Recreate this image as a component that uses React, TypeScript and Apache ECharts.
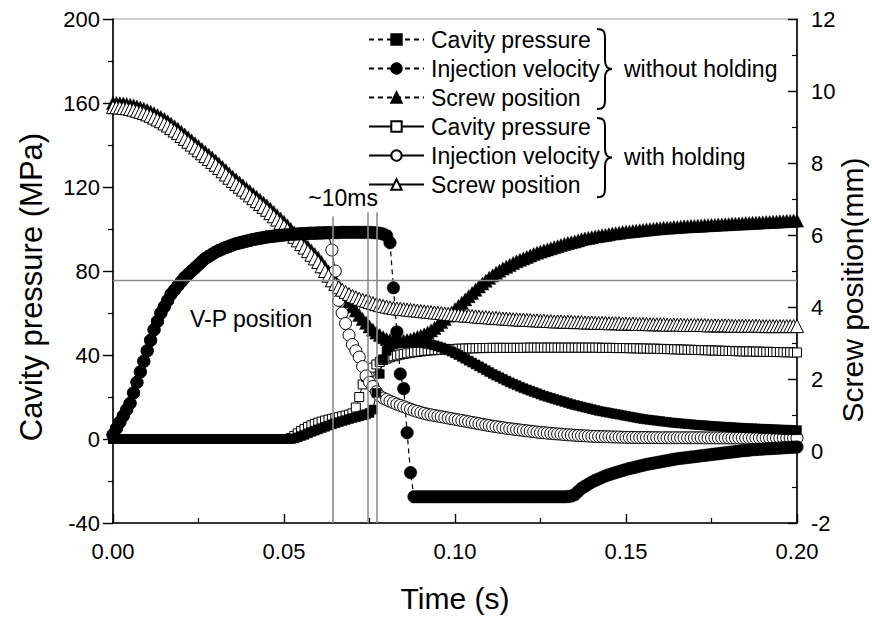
import React, { useEffect, useRef } from "react";
import * as echarts from "echarts";

// Logger sampling interval (s); every series below holds one value per step from 0 to 0.200 s.
const SAMPLE_STEP = 0.001;

const X_TICKS = { min: 0, max: 0.2, interval: 0.05 };
const LEFT_TICKS = { min: -40, max: 200, interval: 40 };
const RIGHT_TICKS = { min: -2, max: 12, interval: 2 };

// Without holding pressure
const cavityWithout = [
  0, 0, 0, 0, 0, 0, 0, 0, 0, 0,
  0, 0, 0, 0, 0, 0, 0, 0, 0, 0,
  0, 0, 0, 0, 0, 0, 0, 0, 0, 0,
  0, 0, 0, 0, 0, 0, 0, 0, 0, 0,
  0, 0, 0, 0, 0, 0, 0, 0, 0, 0,
  0, 0, 0, 0.3, 0.8, 1.4, 2, 2.7, 3.4, 4,
  4.6, 5.2, 5.8, 6.4, 7, 7.5, 8, 8.5, 9, 9.5,
  10, 10.4, 10.8, 11.3, 11.8, 12.4, 14, 22, 31, 38,
  42, 44, 45, 45.5, 45.8, 46, 46, 46, 46, 45.9,
  45.8, 45.6, 45.3, 45, 44.6, 44.1, 43.6, 43, 42.3, 41.6,
  40.8, 40, 39.1, 38.2, 37.3, 36.4, 35.5, 34.6, 33.7, 32.8,
  31.9, 31, 30.2, 29.4, 28.6, 27.8, 27, 26.3, 25.6, 24.9,
  24.2, 23.6, 23, 22.4, 21.8, 21.2, 20.6, 20.1, 19.6, 19.1,
  18.6, 18.1, 17.6, 17.1, 16.6, 16.2, 15.8, 15.4, 15, 14.6,
  14.2, 13.8, 13.4, 13.1, 12.8, 12.5, 12.2, 11.9, 11.6, 11.3,
  11, 10.7, 10.4, 10.1, 9.8, 9.5, 9.3, 9.1, 8.9, 8.7,
  8.5, 8.3, 8.1, 7.9, 7.7, 7.6, 7.4, 7.3, 7.1, 7,
  6.8, 6.7, 6.6, 6.5, 6.3, 6.2, 6.1, 6, 5.9, 5.8,
  5.7, 5.6, 5.5, 5.4, 5.3, 5.2, 5.1, 5.1, 5, 4.9,
  4.8, 4.8, 4.7, 4.6, 4.6, 4.5, 4.4, 4.4, 4.3, 4.3,
  4.2,
];

const velocityWithout = [
  2, 5, 8, 11, 14, 17, 22, 27, 32, 37,
  42, 47, 52, 56, 60, 63, 66, 69, 71, 73,
  75, 77, 78.5, 80, 81.5, 83, 84.5, 86, 87, 88,
  89, 89.8, 90.5, 91.2, 91.8, 92.4, 93, 93.4, 93.8, 94.2,
  94.6, 95, 95.3, 95.6, 95.9, 96.2, 96.4, 96.6, 96.8, 97,
  97.2, 97.3, 97.4, 97.5, 97.6, 97.7, 97.8, 97.9, 98, 98,
  98.1, 98.1, 98.2, 98.2, 98.3, 98.3, 98.3, 98.4, 98.4, 98.4,
  98.4, 98.4, 98.4, 98.4, 98.4, 98.4, 98.3, 98.2, 98, 97.6,
  96.8, 93.5, 72, 51, 31, 24, 3, -16, -27.5, -27.5,
  -27.5, -27.5, -27.5, -27.5, -27.5, -27.5, -27.5, -27.5, -27.5, -27.5,
  -27.5, -27.5, -27.5, -27.5, -27.5, -27.5, -27.5, -27.5, -27.5, -27.5,
  -27.5, -27.5, -27.5, -27.5, -27.5, -27.5, -27.5, -27.5, -27.5, -27.5,
  -27.5, -27.5, -27.5, -27.5, -27.5, -27.5, -27.5, -27.5, -27.5, -27.5,
  -27.5, -27.5, -27.5, -27.4, -27.2, -26.5, -25, -23.5, -22.5, -21.5,
  -20.5, -19.7, -19, -18.3, -17.6, -17, -16.5, -16, -15.5, -15,
  -14.5, -14.1, -13.7, -13.3, -12.9, -12.5, -12.1, -11.8, -11.5, -11.2,
  -10.9, -10.6, -10.3, -10, -9.7, -9.4, -9.2, -9, -8.8, -8.6,
  -8.4, -8.2, -8, -7.8, -7.6, -7.4, -7.2, -7, -6.8, -6.6,
  -6.4, -6.2, -6, -5.8, -5.6, -5.5, -5.3, -5.1, -5, -4.9,
  -4.8, -4.7, -4.6, -4.5, -4.4, -4.3, -4.2, -4.1, -4, -3.9,
  -3.8,
];

const screwWithout = [
  9.67, 9.67, 9.66, 9.65, 9.64, 9.62, 9.6, 9.57, 9.54, 9.51,
  9.47, 9.43, 9.38, 9.33, 9.28, 9.22, 9.16, 9.09, 9.02, 8.95,
  8.87, 8.79, 8.71, 8.63, 8.55, 8.47, 8.39, 8.31, 8.23, 8.15,
  8.07, 7.98, 7.89, 7.8, 7.71, 7.62, 7.54, 7.46, 7.38, 7.3,
  7.22, 7.14, 7.06, 6.98, 6.9, 6.82, 6.73, 6.64, 6.55, 6.46,
  6.37, 6.27, 6.17, 6.07, 5.97, 5.87, 5.77, 5.67, 5.57, 5.47,
  5.37, 5.25, 5.12, 4.99, 4.86, 4.74, 4.6, 4.45, 4.3, 4.15,
  4.02, 3.9, 3.78, 3.67, 3.56, 3.46, 3.37, 3.29, 3.22, 3.16,
  3.11, 3.08, 3.06, 3.05, 3.05, 3.06, 3.08, 3.1, 3.13, 3.17,
  3.2, 3.24, 3.29, 3.35, 3.42, 3.5, 3.58, 3.67, 3.76, 3.85,
  3.94, 4.03, 4.12, 4.21, 4.3, 4.39, 4.48, 4.57, 4.65, 4.73,
  4.81, 4.88, 4.95, 5.01, 5.07, 5.12, 5.17, 5.22, 5.27, 5.31,
  5.35, 5.39, 5.43, 5.47, 5.51, 5.54, 5.57, 5.6, 5.63, 5.66,
  5.69, 5.72, 5.75, 5.78, 5.8, 5.82, 5.85, 5.88, 5.9, 5.92,
  5.94, 5.96, 5.97, 5.99, 6, 6.02, 6.04, 6.05, 6.06, 6.08,
  6.09, 6.1, 6.11, 6.12, 6.13, 6.14, 6.15, 6.16, 6.17, 6.18,
  6.19, 6.2, 6.2, 6.21, 6.22, 6.22, 6.23, 6.24, 6.24, 6.25,
  6.25, 6.26, 6.26, 6.27, 6.27, 6.28, 6.28, 6.29, 6.29, 6.3,
  6.3, 6.31, 6.31, 6.32, 6.32, 6.33, 6.33, 6.34, 6.34, 6.35,
  6.35, 6.36, 6.36, 6.37, 6.37, 6.38, 6.38, 6.39, 6.39, 6.4,
  6.4,
];

// With holding pressure
const cavityWith = [
  0, 0, 0, 0, 0, 0, 0, 0, 0, 0,
  0, 0, 0, 0, 0, 0, 0, 0, 0, 0,
  0, 0, 0, 0, 0, 0, 0, 0, 0, 0,
  0, 0, 0, 0, 0, 0, 0, 0, 0, 0,
  0, 0, 0, 0, 0, 0, 0, 0, 0, 0,
  0, 0, 0.5, 1.5, 2.7, 3.8, 4.8, 5.7, 6.5, 7.2,
  7.8, 8.3, 8.8, 9.2, 9.6, 10, 10.4, 10.8, 11.2, 11.6,
  12.2, 15, 20, 26, 29.5, 32, 34, 35.5, 36.7, 37.6,
  38.3, 38.9, 39.4, 39.8, 40.2, 40.5, 40.8, 41.1, 41.3, 41.5,
  41.7, 41.9, 42.1, 42.2, 42.3, 42.4, 42.5, 42.6, 42.7, 42.8,
  42.9, 43, 43, 43.1, 43.1, 43.2, 43.2, 43.3, 43.3, 43.3,
  43.4, 43.4, 43.4, 43.4, 43.4, 43.4, 43.4, 43.4, 43.4, 43.4,
  43.4, 43.5, 43.5, 43.5, 43.5, 43.5, 43.5, 43.5, 43.5, 43.5,
  43.5, 43.5, 43.5, 43.5, 43.5, 43.5, 43.5, 43.5, 43.5, 43.5,
  43.5, 43.5, 43.5, 43.4, 43.4, 43.4, 43.4, 43.3, 43.3, 43.3,
  43.3, 43.2, 43.2, 43.2, 43.1, 43.1, 43.1, 43, 43, 43,
  42.9, 42.9, 42.8, 42.8, 42.7, 42.7, 42.6, 42.6, 42.5, 42.5,
  42.4, 42.4, 42.3, 42.3, 42.2, 42.2, 42.1, 42.1, 42, 42,
  41.9, 41.9, 41.8, 41.8, 41.7, 41.7, 41.7, 41.6, 41.6, 41.6,
  41.5, 41.5, 41.5, 41.4, 41.4, 41.4, 41.3, 41.3, 41.3, 41.2,
  41.2,
];

const velocityWith = [
  2, 5, 8, 11, 14, 17, 22, 27, 32, 37,
  42, 47, 52, 56, 60, 63, 66, 69, 71, 73,
  75, 77, 78.5, 80, 81.5, 83, 84.5, 86, 87, 88,
  89, 89.8, 90.5, 91.2, 91.8, 92.4, 93, 93.4, 93.8, 94.2,
  94.6, 95, 95.3, 95.6, 95.9, 96.2, 96.4, 96.6, 96.8, 97,
  97.2, 97.3, 97.4, 97.5, 97.6, 97.7, 97.8, 97.9, 98, 98,
  98.1, 98.1, 98.2, 98.2, 90, 80, 66, 60, 55, 49.5,
  45, 42, 39, 34.5, 30, 27, 25, 22.5, 20.5, 19.5,
  18.8, 18, 17.3, 16.6, 16, 15.4, 14.8, 14.2, 13.6, 13.1,
  12.6, 12.2, 11.8, 11.5, 11.2, 10.9, 10.6, 10.3, 10, 9.7,
  9.4, 9.1, 8.8, 8.5, 8.2, 7.9, 7.6, 7.3, 7, 6.7,
  6.4, 6.1, 5.9, 5.6, 5.4, 5.1, 4.9, 4.7, 4.5, 4.3,
  4.1, 3.9, 3.7, 3.5, 3.3, 3.1, 3, 2.8, 2.7, 2.5,
  2.4, 2.3, 2.1, 2, 1.9, 1.8, 1.7, 1.6, 1.5, 1.4,
  1.3, 1.25, 1.2, 1.15, 1.1, 1.05, 1, 0.95, 0.9, 0.85,
  0.8, 0.8, 0.75, 0.75, 0.7, 0.7, 0.7, 0.65, 0.65, 0.65,
  0.6, 0.6, 0.6, 0.6, 0.6, 0.6, 0.6, 0.6, 0.6, 0.6,
  0.6, 0.6, 0.6, 0.55, 0.55, 0.55, 0.55, 0.55, 0.55, 0.55,
  0.5, 0.5, 0.5, 0.5, 0.5, 0.5, 0.5, 0.5, 0.5, 0.5,
  0.5, 0.5, 0.5, 0.5, 0.5, 0.5, 0.5, 0.5, 0.5, 0.5,
  0.5,
];

const screwWith = [
  9.55, 9.55, 9.54, 9.53, 9.52, 9.5, 9.48, 9.45, 9.42, 9.39,
  9.35, 9.31, 9.26, 9.21, 9.16, 9.1, 9.04, 8.97, 8.9, 8.83,
  8.75, 8.67, 8.59, 8.51, 8.43, 8.35, 8.27, 8.19, 8.11, 8.03,
  7.95, 7.86, 7.77, 7.68, 7.59, 7.5, 7.42, 7.34, 7.26, 7.18,
  7.1, 7.02, 6.94, 6.86, 6.78, 6.7, 6.61, 6.52, 6.43, 6.34,
  6.25, 6.15, 6.05, 5.95, 5.85, 5.75, 5.65, 5.55, 5.45, 5.35,
  5.25, 5.13, 5, 4.87, 4.74, 4.64, 4.55, 4.48, 4.42, 4.36,
  4.31, 4.27, 4.23, 4.2, 4.17, 4.14, 4.11, 4.08, 4.05, 4.03,
  4.01, 3.99, 3.97, 3.96, 3.95, 3.94, 3.93, 3.92, 3.91, 3.9,
  3.89, 3.88, 3.87, 3.86, 3.85, 3.84, 3.83, 3.82, 3.81, 3.8,
  3.79, 3.78, 3.77, 3.76, 3.76, 3.75, 3.74, 3.73, 3.72, 3.72,
  3.71, 3.7, 3.7, 3.69, 3.68, 3.68, 3.67, 3.66, 3.66, 3.65,
  3.65, 3.64, 3.64, 3.63, 3.63, 3.62, 3.62, 3.61, 3.61, 3.6,
  3.6, 3.6, 3.59, 3.59, 3.59, 3.58, 3.58, 3.58, 3.57, 3.57,
  3.57, 3.56, 3.56, 3.56, 3.56, 3.55, 3.55, 3.55, 3.55, 3.54,
  3.54, 3.54, 3.54, 3.53, 3.53, 3.53, 3.53, 3.52, 3.52, 3.52,
  3.52, 3.52, 3.51, 3.51, 3.51, 3.51, 3.51, 3.5, 3.5, 3.5,
  3.5, 3.5, 3.5, 3.5, 3.49, 3.49, 3.49, 3.49, 3.49, 3.49,
  3.49, 3.48, 3.48, 3.48, 3.48, 3.48, 3.48, 3.48, 3.48, 3.48,
  3.47, 3.47, 3.47, 3.47, 3.47, 3.47, 3.47, 3.47, 3.47, 3.47,
  3.47,
];

// Switch-over annotations
const VP_SCREW_POSITION = 4.75; // mm, horizontal reference line
const SWITCH_TIMES = [0.0642, 0.0745, 0.077]; // s, vertical guide lines
const SWITCH_LINE_TOPS = [106, 108, 108]; // MPa, upper end of each guide line
const TEN_MS_LABEL_AT = [0.0673, 115];
const VP_LABEL_AT = [0.0225, 57];

const LEGEND_NAMES = {
  cavityWithout: "without:Cavity pressure",
  velocityWithout: "without:Injection velocity",
  screwWithout: "without:Screw position",
  cavityWith: "with:Cavity pressure",
  velocityWith: "with:Injection velocity",
  screwWith: "with:Screw position",
};

const FONT = "'Liberation Sans', Arial, sans-serif";
const INK = "#000";

// Right-hand curly brace used to group legend rows
const BRACE_PATH =
  "M0,0 C6,0 8,2 8,9 L8,31 C8,37 10,40 15,40 C10,40 8,43 8,49 L8,71 C8,78 6,80 0,80";
echarts.graphic.registerShape("curlyBrace", echarts.graphic.extendPath(BRACE_PATH, {}));

const toPairs = (values: number[]) =>
  values.map((v, i) => [+(i * SAMPLE_STEP).toFixed(3), v]);

function markerSeries(
  name: string,
  values: number[],
  yAxisIndex: number,
  symbol: string,
  symbolSize: number,
  filled: boolean
) {
  return {
    type: "line",
    name,
    yAxisIndex,
    data: toPairs(values),
    symbol,
    symbolSize,
    showSymbol: true,
    showAllSymbol: true,
    silent: true,
    animation: false,
    emphasis: { disabled: true },
    lineStyle: filled
      ? { color: INK, width: 1.2, type: [5, 4] }
      : { color: INK, width: 1, type: "solid" },
    itemStyle: filled
      ? { color: INK, borderColor: INK, borderWidth: 0.5 }
      : { color: "#fff", borderColor: INK, borderWidth: 1 },
  };
}

const axisLabelStyle = { color: INK, fontSize: 22, fontFamily: FONT };

function buildOption() {
  const guideLines = SWITCH_TIMES.map((t, i) => [
    { coord: [t, SWITCH_LINE_TOPS[i]] },
    { coord: [t, LEFT_TICKS.min] },
  ]);

  return {
    animation: false,
    backgroundColor: "#fff",
    grid: {
      left: 113,
      right: 75,
      top: 19,
      bottom: 96,
      show: true,
      borderColor: "#9a9a9a",
      borderWidth: 1,
      backgroundColor: "transparent",
    },
    legend: {
      data: [
        LEGEND_NAMES.cavityWithout,
        LEGEND_NAMES.velocityWithout,
        LEGEND_NAMES.screwWithout,
        LEGEND_NAMES.cavityWith,
        LEGEND_NAMES.velocityWith,
        LEGEND_NAMES.screwWith,
      ],
      orient: "vertical",
      left: 368,
      top: 28,
      padding: 0,
      itemGap: 6,
      itemWidth: 55,
      itemHeight: 13,
      selectedMode: false,
      formatter: (name: string) => name.split(":")[1],
      textStyle: { color: INK, fontSize: 23, fontFamily: FONT, padding: [0, 0, 0, 2] },
    },
    xAxis: [
      {
        type: "value",
        min: X_TICKS.min,
        max: X_TICKS.max,
        interval: X_TICKS.interval,
        axisLine: { onZero: false, lineStyle: { color: INK, width: 1.6 } },
        axisTick: { inside: true, length: 9, lineStyle: { color: INK, width: 1.4 } },
        minorTick: { show: true, splitNumber: 2, length: 5, lineStyle: { color: INK, width: 1.2 } },
        splitLine: { show: false },
        axisLabel: { ...axisLabelStyle, margin: 17, formatter: (v: number) => v.toFixed(2) },
      },
    ],
    yAxis: [
      {
        type: "value",
        position: "left",
        min: LEFT_TICKS.min,
        max: LEFT_TICKS.max,
        interval: LEFT_TICKS.interval,
        axisLine: { show: true, onZero: false, lineStyle: { color: INK, width: 1.6 } },
        axisTick: { show: true, inside: false, length: 10, lineStyle: { color: INK, width: 1.4 } },
        minorTick: { show: true, splitNumber: 2, length: 5, lineStyle: { color: INK, width: 1.2 } },
        splitLine: { show: false },
        axisLabel: { ...axisLabelStyle, margin: 13 },
      },
      {
        type: "value",
        position: "right",
        min: RIGHT_TICKS.min,
        max: RIGHT_TICKS.max,
        interval: RIGHT_TICKS.interval,
        alignTicks: false,
        axisLine: { show: true, onZero: false, lineStyle: { color: INK, width: 1.6 } },
        axisTick: { show: true, inside: true, length: 9, lineStyle: { color: INK, width: 1.4 } },
        minorTick: { show: true, splitNumber: 2, length: 5, lineStyle: { color: INK, width: 1.2 } },
        splitLine: { show: false },
        axisLabel: { ...axisLabelStyle, margin: 14 },
      },
    ],
    series: [
      // guide lines sit underneath every curve
      {
        type: "line",
        name: "guides",
        yAxisIndex: 0,
        data: [],
        silent: true,
        markLine: {
          silent: true,
          symbol: "none",
          animation: false,
          label: { show: false },
          lineStyle: { color: "#8c8c8c", width: 1.6, type: "solid" },
          data: guideLines,
        },
      },
      {
        type: "line",
        name: "vp-line",
        yAxisIndex: 1,
        data: [],
        silent: true,
        markLine: {
          silent: true,
          symbol: "none",
          animation: false,
          label: { show: false },
          lineStyle: { color: "#8c8c8c", width: 1.4, type: "solid" },
          data: [{ yAxis: VP_SCREW_POSITION }],
        },
      },
      // filled screw triangles underneath, so only their tips show above the open ones
      markerSeries(LEGEND_NAMES.screwWithout, screwWithout, 1, "triangle", 13, true),
      markerSeries(LEGEND_NAMES.cavityWith, cavityWith, 0, "rect", 9, false),
      markerSeries(LEGEND_NAMES.velocityWith, velocityWith, 0, "circle", 12, false),
      markerSeries(LEGEND_NAMES.screwWith, screwWith, 1, "triangle", 13, false),
      markerSeries(LEGEND_NAMES.cavityWithout, cavityWithout, 0, "rect", 9, true),
      markerSeries(LEGEND_NAMES.velocityWithout, velocityWithout, 0, "circle", 12.5, true),
    ],
  };
}

function textEl(text: string, x: number, y: number, fontSize: number, align = "center", rotation = 0) {
  return {
    type: "text",
    x,
    y,
    rotation,
    silent: true,
    style: {
      text,
      fill: INK,
      fontSize,
      fontFamily: FONT,
      align,
      verticalAlign: "middle",
    },
  };
}

function braceEl(x: number, y: number, scaleY: number) {
  return {
    type: "curlyBrace",
    x,
    y,
    scaleX: 1,
    scaleY,
    silent: true,
    style: { stroke: INK, lineWidth: 2, fill: "none" },
  };
}

export default function App() {
  const ref = useRef<HTMLDivElement>(null);

  useEffect(() => {
    document.body.style.margin = "0";
    const chart = echarts.init(ref.current!, null, { renderer: "svg" });
    chart.setOption(buildOption() as any);

    const px = (p: number[]) =>
      chart.convertToPixel({ xAxisIndex: 0, yAxisIndex: 0 }, p) as number[];
    const tenMs = px(TEN_MS_LABEL_AT);
    const vp = px(VP_LABEL_AT);

    chart.setOption({
      graphic: [
        textEl("Cavity pressure (MPa)", 31, 287, 31, "center", Math.PI / 2),
        textEl("Screw position(mm)", 852, 290, 30, "center", Math.PI / 2),
        textEl("Time (s)", 455, 598, 30),
        textEl("~10ms", tenMs[0], tenMs[1], 23),
        textEl("V-P position", vp[0], vp[1], 23, "left"),
        braceEl(597, 29, 1),
        braceEl(597, 118, 0.99),
        textEl("without holding", 624, 69, 23, "left"),
        textEl("with holding", 624, 157, 23, "left"),
      ],
    } as any);

    return () => chart.dispose();
  }, []);

  return <div ref={ref} style={{ width: 872, height: 619 }} />;
}
